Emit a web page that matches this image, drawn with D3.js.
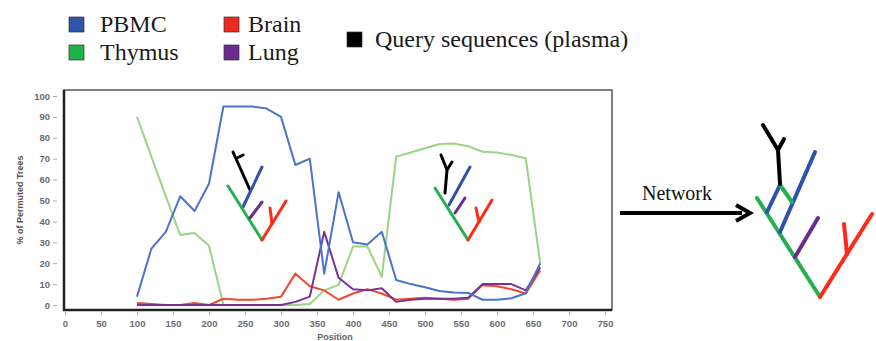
<!DOCTYPE html>
<html><head><meta charset="utf-8">
<script src="https://cdn.jsdelivr.net/npm/d3@7"></script>
<style>body{margin:0;background:#fff}svg{display:block}</style>
</head><body>
<svg id="c" width="876" height="341"></svg>
<script>
const positions = [100,120,140,160,180,200,220,240,260,280,300,320,340,360,380,400,420,440,460,480,500,520,540,560,580,600,620,640,660];
const pbmc   = [4,27,35,52,45,58,95,95,95,94,90,67,70,15,54,30,29,35,12,10,8.5,6.7,6,5.8,2.5,2.5,3.2,5.6,20];
const thymus = [90,71,52,33.5,34.5,28.4,0,0,0,0,0,0,0.5,7,9.6,28,28,13.5,71,73,75,77,77.3,76,73.3,73,71.8,70.2,20];
const brain  = [1,0.5,0,0,1,0,3,2.5,2.5,3,4,15,9,7,2.5,5.5,7.5,5.5,2.5,3,3.5,3,2.5,3,9.5,9,7.5,5.5,16.5];
const lung   = [0,0,0,0,0,0,0,0,0,0,0,1.5,4,35,13,7.5,7,8,1.5,2.5,3,3,3,3.5,10,10,10,7,18];
const xTicks = d3.range(0,751,50);
const yTicks = d3.range(0,101,10);
const legendItems = [
  {name:"PBMC", color:"#2e55a6"},
  {name:"Thymus", color:"#1fb24a"},
  {name:"Brain", color:"#ec2a22"},
  {name:"Lung", color:"#6a2b8f"},
  {name:"Query sequences (plasma)", color:"#000"}
];
const seriesDefs = [
  {name:"Thymus", values:thymus, color:"#9bd384"},
  {name:"Brain", values:brain, color:"#f04a2c"},
  {name:"Lung", values:lung, color:"#7a3196"},
  {name:"PBMC", values:pbmc, color:"#4a74c8"}
];

const svg = d3.select("#c");
const x = d3.scaleLinear().domain([0,750]).range([65,605]);
const y = d3.scaleLinear().domain([0,100]).range([305,96]);

// frame
svg.append("rect").attr("x",64).attr("y",90).attr("width",548).attr("height",220)
  .attr("fill","#fff").attr("stroke","#555").attr("stroke-width",1.5);
svg.append("path").attr("d","M64,90V310H612").attr("fill","none").attr("stroke","#222").attr("stroke-width",2.5);

// axes
const ya = svg.append("g").attr("transform","translate(57,0)")
  .call(d3.axisLeft(y).tickValues(yTicks).tickSize(4).tickPadding(3));
const xa = svg.append("g").attr("transform","translate(0,312)")
  .call(d3.axisBottom(x).tickValues(xTicks).tickSize(3).tickPadding(5));
[ya,xa].forEach(g=>{
  g.select(".domain").remove();
  g.selectAll(".tick line").attr("stroke","#aaa");
  g.selectAll("text").attr("fill","#6b6b6b").style("font","bold 9.5px 'Liberation Sans', Arial, sans-serif");
});
svg.append("text").attr("transform","translate(23,200) rotate(-90)").attr("text-anchor","middle")
  .attr("fill","#555").style("font","bold 9px 'Liberation Sans', Arial, sans-serif").text("% of Permuted Trees");
svg.append("text").attr("x",x(375)).attr("y",339.5).attr("text-anchor","middle")
  .attr("fill","#666").style("font","bold 9px 'Liberation Sans', Arial, sans-serif").text("Position");

// lines
const line = d3.line().x((d,i)=>x(positions[i])).y(d=>y(d));
seriesDefs.forEach(s=>{
  svg.append("path").datum(s.values).attr("d",line).attr("fill","none")
    .attr("stroke",s.color).attr("stroke-width",2).attr("stroke-linejoin","round");
});

// legend
const lpos = [[69,17,100],[69,45,100],[224,17,248],[224,45,248],[347,32,375]];
legendItems.forEach((it,i)=>{
  const [lx,ly,tx]=lpos[i];
  svg.append("rect").attr("x",lx).attr("y",ly).attr("width",15).attr("height",15)
    .attr("fill",it.color).attr("stroke","#333").attr("stroke-width",0.7);
  svg.append("text").attr("x",tx).attr("y",ly+15)
    .style("font","24px 'Liberation Serif', 'Times New Roman', serif").attr("fill","#1a1a1a").text(it.name);
});

// small trees drawn as line segments
const TG="#22b14c", TB="#3050b0", TR="#ff2a1a", TP="#6b2c91", TK="#000";
function seg(pts,color,w){
  svg.append("path").attr("d",d3.line()(pts)).attr("fill","none").attr("stroke",color)
    .attr("stroke-width",w).attr("stroke-linecap","round").attr("stroke-linejoin","round");
}
// tree 1
seg([[233,152],[250,190]],TK,3); seg([[237,158],[243,155]],TK,3);
seg([[243,207],[262,167]],TB,3);
seg([[228,186],[262,240]],TG,3);
seg([[262,240],[286,201]],TR,3); seg([[272,224],[270,208]],TR,3);
seg([[250,218],[262,202]],TP,3);
// tree 2
seg([[445,193],[447,170],[441,155]],TK,3); seg([[447,170],[452,162]],TK,3);
seg([[449,205],[470,167]],TB,3);
seg([[435,188],[468,240]],TG,3);
seg([[468,240],[492,200]],TR,3); seg([[479,222],[476,208]],TR,3);
seg([[455,213],[465,198]],TP,3);

// arrow
svg.append("path").attr("d","M620,213H742").attr("stroke","#000").attr("stroke-width",4);
svg.append("path").attr("d","M736,205L750,213L736,221").attr("fill","none").attr("stroke","#000").attr("stroke-width",4).attr("stroke-linejoin","miter");
svg.append("text").attr("x",642).attr("y",200).style("font","20px 'Liberation Serif', 'Times New Roman', serif").attr("fill","#111").text("Network");

// network tree
seg([[757,198],[820,297]],TG,4);
seg([[820,297],[872,214]],TR,4); seg([[847,254],[844,224]],TR,4);
seg([[795,257],[818,218]],TP,4);
seg([[767,212],[780,185]],TB,4);
seg([[780,232],[815,152]],TB,4);
seg([[780,185],[792,202]],TG,4);
seg([[780,184],[778,150]],TK,4); seg([[778,150],[763,125]],TK,4); seg([[778,150],[784,139]],TK,4);
</script>
</body></html>
